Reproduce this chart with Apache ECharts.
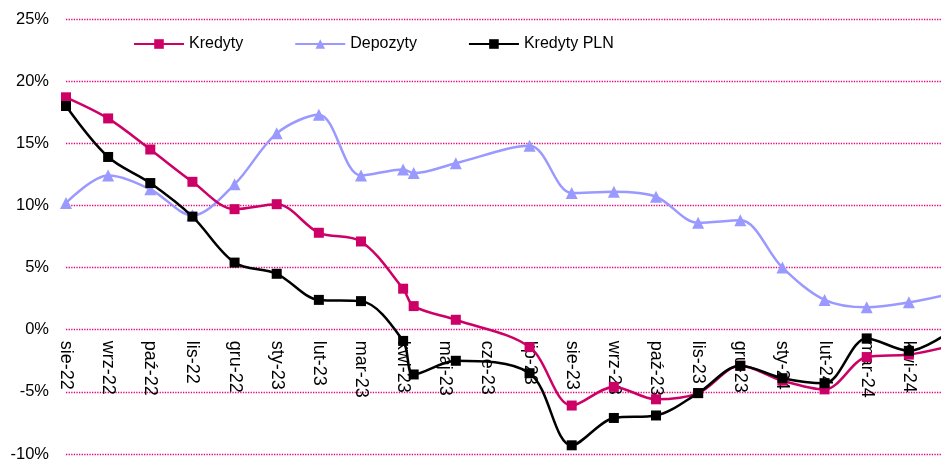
<!DOCTYPE html>
<html>
<head>
<meta charset="utf-8">
<script src="https://cdn.jsdelivr.net/npm/echarts@6/dist/echarts.min.js"></script>
<style>
html,body{margin:0;padding:0;background:#fff;}
#chart{width:941px;height:464px;}
</style>
</head>
<body>
<div id="chart"></div>
<script>
// Month tick labels (one per month on the x axis)
const months = ['sie-22','wrz-22','paź-22','lis-22','gru-22','sty-23','lut-23','mar-23','kwi-23','maj-23','cze-23','lip-23','sie-23','wrz-23','paź-23','lis-23','gru-23','sty-24','lut-24','mar-24','kwi-24','maj-24'];
// Observation positions, in months since sie-22
const xs = [0,1,2,3,4,5,6,7,8,8.25,9.25,11,12,13,14,15,16,17,18,19,20,21];
// Series values (%)
const kredyty    = [18.7,17.0,14.5,11.9,9.7,10.1,7.8,7.1,3.3,1.9,0.8,-1.4,-6.1,-4.6,-5.6,-5.1,-2.9,-4.1,-4.8,-2.2,-2.0,-1.3];
const depozyty   = [10.2,12.4,11.3,9.2,11.7,15.8,17.3,12.4,12.9,12.6,13.4,14.8,11.0,11.1,10.7,8.6,8.8,5.0,2.4,1.8,2.2,2.9];
const kredytyPLN = [18.0,13.9,11.8,9.1,5.4,4.5,2.4,2.3,-0.9,-3.6,-2.5,-3.5,-9.3,-7.1,-6.9,-5.1,-2.9,-3.9,-4.3,-0.7,-1.7,-0.1];
const yTicks = {min:-10, max:25, step:5};

const pair = arr => arr.map((v,i)=>[xs[i], v]);
const FONT = "'Liberation Sans', Arial, sans-serif";
const GRID = {left:66, right:-10, top:19, bottom:10};
const plotH = 464 - GRID.top - GRID.bottom;
// shift the category axis up so it sits on the 0% line
const zeroOffset = -plotH * (0 - yTicks.min) / (yTicks.max - yTicks.min);

const chart = echarts.init(document.getElementById('chart'), null, {renderer:'canvas'});
chart.setOption({
  animation:false,
  backgroundColor:'#fff',
  textStyle:{fontFamily:FONT},
  grid:Object.assign({containLabel:false, outerBoundsMode:'none'}, GRID),
  legend:{
    left:133, top:36, padding:0,
    itemWidth:50, itemHeight:12, itemGap:51,
    textStyle:{fontSize:16, color:'#000', fontFamily:FONT},
    data:['Kredyty','Depozyty','Kredyty PLN']
  },
  xAxis:{
    type:'value', min:0, max:months.length-1, interval:1,
    offset:zeroOffset,
    axisLine:{show:false, onZero:false},
    axisTick:{show:false},
    splitLine:{show:false},
    axisLabel:{
      rotate:-90, margin:11, fontSize:18, color:'#000', fontFamily:FONT,
      formatter:v=>months[Math.round(v)]||''
    }
  },
  yAxis:{
    type:'value', min:yTicks.min, max:yTicks.max, interval:yTicks.step,
    axisLine:{show:false}, axisTick:{show:false},
    splitLine:{show:true, lineStyle:{color:'#e5007e', type:'dotted', width:1.3}},
    axisLabel:{fontSize:16.5, color:'#000', margin:17, fontFamily:FONT, formatter:v=>v+'%'}
  },
  series:[
    {name:'Depozyty', type:'line', data:pair(depozyty), smooth:0.33,
     symbol:'triangle', symbolSize:12, z:2,
     lineStyle:{color:'#9999ff', width:2.5}, itemStyle:{color:'#9999ff'}},
    {name:'Kredyty', type:'line', data:pair(kredyty), smooth:0.33,
     symbol:'rect', symbolSize:10, z:3,
     lineStyle:{color:'#cc0066', width:2.5}, itemStyle:{color:'#cc0066'}},
    {name:'Kredyty PLN', type:'line', data:pair(kredytyPLN), smooth:0.33,
     symbol:'rect', symbolSize:10, z:4,
     lineStyle:{color:'#000', width:2.5}, itemStyle:{color:'#000'}}
  ]
});
</script>
</body>
</html>
